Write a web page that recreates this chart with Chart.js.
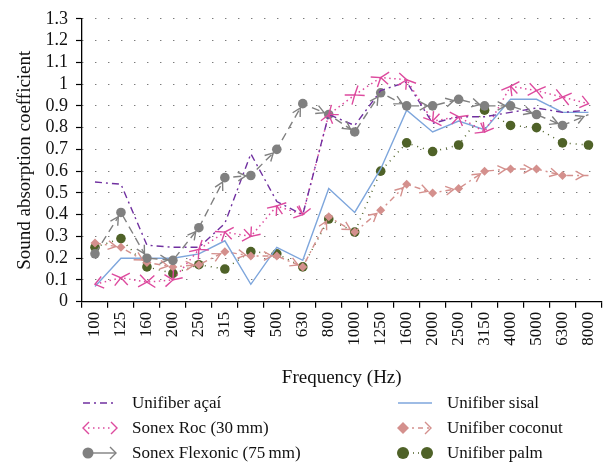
<!DOCTYPE html>
<html>
<head>
<meta charset="utf-8">
<script src="https://cdn.jsdelivr.net/npm/chart.js@4.4.0/dist/chart.umd.min.js"></script>
<style>
  html, body { margin: 0; padding: 0; background: #fff; }
  #wrap { position: relative; width: 613px; height: 467px; }
  #grafico { position: absolute; left: 0; top: 0; }
  .leyenda { position: absolute; left: 0; top: 0; width: 613px; height: 467px; font-family: 'Liberation Serif', serif; font-size: 17px; color: #111; }
  .item { position: absolute; height: 22px; display: flex; align-items: center; white-space: nowrap; }
  .item svg { margin-right: 12px; }
</style>
</head>
<body>
<div id="wrap">
  <canvas id="grafico" width="613" height="467"></canvas>
  <div class="leyenda">
    <div class="item" style="left:80px; top:392px;">
      <svg width="40" height="22"><line x1="3" y1="11" x2="37" y2="11" stroke="#7030a0" stroke-width="1.4" stroke-dasharray="7 4 2 4"/></svg>Unifiber açaí
    </div>
    <div class="item" style="left:80px; top:417px;">
      <svg width="40" height="22"><line x1="8" y1="11" x2="32" y2="11" stroke="#dd4a9e" stroke-width="1.5" stroke-dasharray="1.5 3.5"/><polyline points="9,5 3,11 9,17" fill="none" stroke="#dd4a9e" stroke-width="1.4"/><polyline points="31,5 37,11 31,17" fill="none" stroke="#dd4a9e" stroke-width="1.4"/></svg>Sonex Roc (30&thinsp;mm)
    </div>
    <div class="item" style="left:80px; top:442px;">
      <svg width="40" height="22"><line x1="8" y1="11" x2="36" y2="11" stroke="#808080" stroke-width="1.4"/><circle cx="8" cy="11" r="5.5" fill="#808080"/><polyline points="30,5 36,11 30,17" fill="none" stroke="#808080" stroke-width="1.4"/></svg>Sonex Flexonic (75&thinsp;mm)
    </div>
    <div class="item" style="left:395px; top:392px;">
      <svg width="40" height="22"><line x1="3" y1="11" x2="37" y2="11" stroke="#7ea6dc" stroke-width="1.4"/></svg>Unifiber sisal
    </div>
    <div class="item" style="left:395px; top:417px;">
      <svg width="40" height="22"><line x1="8" y1="11" x2="36" y2="11" stroke="#d4908d" stroke-width="1.4" stroke-dasharray="5 4 2 4"/><polygon points="8,5 14,11 8,17 2,11" fill="#d4908d"/><polyline points="30,5 36,11 30,17" fill="none" stroke="#d4908d" stroke-width="1.4"/></svg>Unifiber coconut
    </div>
    <div class="item" style="left:395px; top:442px;">
      <svg width="40" height="22"><line x1="8" y1="11" x2="32" y2="11" stroke="#4f6228" stroke-width="1.5" stroke-dasharray="1 4"/><circle cx="8" cy="11" r="6" fill="#4f6228"/><circle cx="32" cy="11" r="6" fill="#4f6228"/></svg>Unifiber palm
    </div>
  </div>
</div>
<script>
// datos
const frecuencias = ['100', '125', '160', '200', '250', '315', '400', '500', '630', '800',
  '1000', '1250', '1600', '2000', '2500', '3150', '4000', '5000', '6300', '8000'];

const acai      = [0.55, 0.54, 0.26, 0.25, 0.25, 0.36, 0.68, 0.46, 0.40, 0.86, 0.81, 0.97, 1.01, 0.82, 0.85, 0.85, 0.87, 0.89, 0.87, 0.88];
const sonexRoc  = [0.08, 0.11, 0.09, 0.10, 0.24, 0.32, 0.30, 0.44, 0.40, 0.86, 0.95, 1.03, 1.02, 0.83, 0.85, 0.78, 0.99, 0.97, 0.94, 0.91];
const flexonic  = [0.22, 0.41, 0.20, 0.19, 0.34, 0.57, 0.58, 0.70, 0.91, 0.86, 0.78, 0.96, 0.90, 0.90, 0.93, 0.90, 0.90, 0.86, 0.81, 0.86];
const sisal     = [0.07, 0.20, 0.20, 0.20, 0.22, 0.28, 0.08, 0.25, 0.19, 0.52, 0.41, 0.61, 0.88, 0.78, 0.83, 0.79, 0.93, 0.93, 0.87, 0.87];
const coco      = [0.27, 0.25, 0.18, 0.16, 0.17, 0.23, 0.21, 0.21, 0.16, 0.39, 0.32, 0.42, 0.54, 0.50, 0.52, 0.60, 0.61, 0.61, 0.58, 0.58];
const palma     = [0.25, 0.29, 0.16, 0.13, 0.17, 0.15, 0.23, 0.22, 0.16, 0.38, 0.32, 0.60, 0.73, 0.69, 0.72, 0.88, 0.81, 0.80, 0.73, 0.72];

const yMax = 1.3;
const yPaso = 0.1;

// dibuja una punta de flecha abierta ">" en (x, y) apuntando al angulo dado
function punta(ctx, x, y, ang, largo, abre) {
  ctx.beginPath();
  ctx.moveTo(x - Math.cos(ang - abre) * largo, y - Math.sin(ang - abre) * largo);
  ctx.lineTo(x, y);
  ctx.lineTo(x - Math.cos(ang + abre) * largo, y - Math.sin(ang + abre) * largo);
  ctx.stroke();
}

// plugin para las flechas al final de cada tramo
const flechas = {
  id: 'flechas',
  afterDatasetsDraw(chart) {
    const ctx = chart.ctx;
    chart.data.datasets.forEach((ds, i) => {
      if (!ds.flecha) return;
      const pts = chart.getDatasetMeta(i).data;
      const f = ds.flecha;
      ctx.save();
      ctx.strokeStyle = ds.borderColor;
      ctx.lineWidth = 1.4;
      ctx.setLineDash([]);
      for (let k = 1; k < pts.length; k++) {
        const a = pts[k - 1], b = pts[k];
        const ang = Math.atan2(b.y - a.y, b.x - a.x);
        punta(ctx, b.x - Math.cos(ang) * f.hueco, b.y - Math.sin(ang) * f.hueco, ang, f.largo, f.abre);
        if (f.doble) {
          punta(ctx, a.x + Math.cos(ang) * f.hueco, a.y + Math.sin(ang) * f.hueco, ang + Math.PI, f.largo, f.abre);
        }
      }
      ctx.restore();
    });
  }
};

const sinUltimo = (r) => (c) => c.dataIndex === frecuencias.length - 1 ? 0 : r;

Chart.defaults.font.family = "'Liberation Serif', serif";
Chart.defaults.color = '#111';

new Chart(document.getElementById('grafico').getContext('2d'), {
  type: 'line',
  data: {
    labels: frecuencias,
    datasets: [
      { label: 'Unifiber açaí', data: acai, borderColor: '#7030a0', borderWidth: 1.4,
        borderDash: [7, 4, 2, 4], pointRadius: 0 },
      { label: 'Sonex Roc (30 mm)', data: sonexRoc, borderColor: '#dd4a9e', borderWidth: 1.5,
        borderDash: [1.5, 3.5], pointRadius: 0,
        flecha: { hueco: 0, largo: 10, abre: 0.65, doble: true } },
      { label: 'Sonex Flexonic (75 mm)', data: flexonic, borderColor: '#808080', borderWidth: 1.4,
        borderDash: [8, 5], pointRadius: sinUltimo(4.8), pointBackgroundColor: '#808080', pointBorderWidth: 0,
        flecha: { hueco: 5, largo: 9, abre: 0.5 } },
      { label: 'Unifiber sisal', data: sisal, borderColor: '#7ea6dc', borderWidth: 1.4, pointRadius: 0 },
      { label: 'Unifiber coconut', data: coco, borderColor: '#d4908d', borderWidth: 1.4,
        borderDash: [6, 4, 2, 4], pointRadius: sinUltimo(4.5), pointStyle: 'rectRot',
        pointBackgroundColor: '#d4908d', pointBorderWidth: 0,
        flecha: { hueco: 5, largo: 9, abre: 0.5 } },
      { label: 'Unifiber palm', data: palma, borderColor: '#4f6228', borderWidth: 1.5,
        borderDash: [1, 5], pointRadius: 4.8, pointBackgroundColor: '#4f6228', pointBorderWidth: 0 }
    ]
  },
  options: {
    responsive: false,
    animation: false,
    layout: { padding: { top: 15.7, right: 5, left: 0, bottom: 75 } },
    plugins: {
      legend: { display: false },
      tooltip: { enabled: false }
    },
    scales: {
      x: {
        offset: true,
        grid: { display: true, drawOnChartArea: false, offset: true, color: '#000', tickLength: 6, lineWidth: 1.2 },
        border: { color: '#000', width: 1.3 },
        ticks: { minRotation: 90, maxRotation: 90, autoSkip: false, padding: 4, font: { size: 17 }, color: '#111' },
        title: { display: true, text: 'Frequency (Hz)', font: { size: 19, lineHeight: 1 }, padding: { top: 0, bottom: 4.5 }, color: '#111' },
        afterFit: (s) => { s.height = 90.3; }
      },
      y: {
        min: 0,
        max: yMax,
        grid: { color: '#444', lineWidth: 1, tickLength: 6, tickColor: '#000', tickWidth: 1.2, tickBorderDash: [] },
        border: { color: '#000', width: 1.3, dash: [1, 12] },
        ticks: { stepSize: yPaso, autoSkip: false, padding: 8, font: { size: 18 }, color: '#111',
          callback: (v) => String(Math.round(v * 10) / 10) },
        title: { display: true, text: 'Sound absorption coefficient', font: { size: 19, lineHeight: 1 }, padding: { top: 15.5, bottom: 0 }, color: '#111' },
        afterFit: (s) => { s.width = 82; }
      }
    }
  },
  plugins: [flechas]
});
</script>
</body>
</html>
